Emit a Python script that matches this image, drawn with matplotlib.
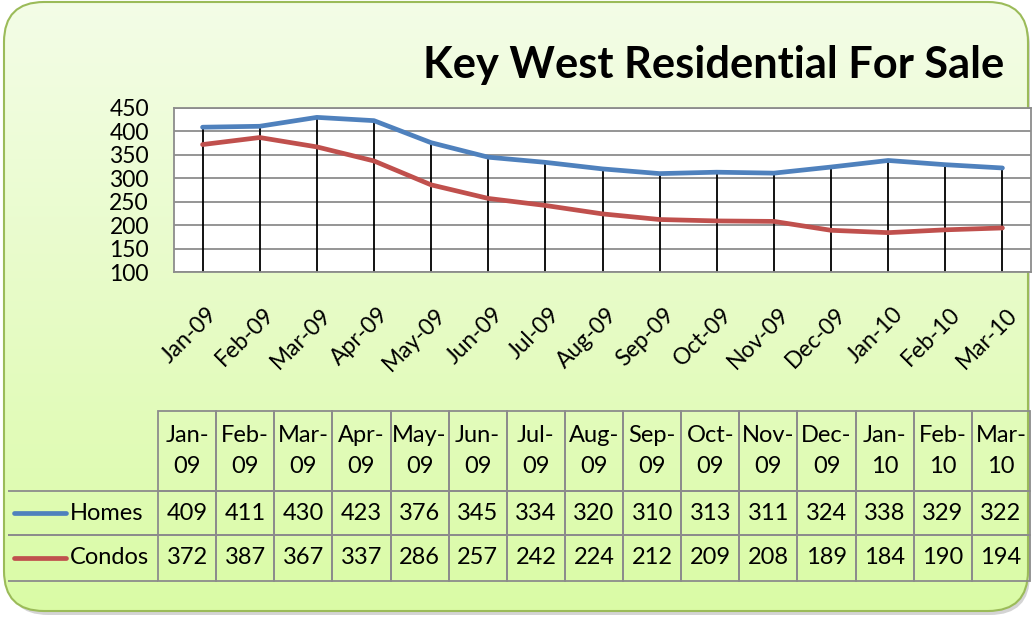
import matplotlib.pyplot as plt
import matplotlib.transforms as mtransforms
import numpy as np
from matplotlib.patches import FancyBboxPatch
from matplotlib.lines import Line2D

plt.rcParams['font.family'] = ['Lato', 'DejaVu Sans']

months = ["Jan-09", "Feb-09", "Mar-09", "Apr-09", "May-09", "Jun-09", "Jul-09",
          "Aug-09", "Sep-09", "Oct-09", "Nov-09", "Dec-09", "Jan-10", "Feb-10", "Mar-10"]
homes = [409, 411, 430, 423, 376, 345, 334, 320, 310, 313, 311, 324, 338, 329, 322]
condos = [372, 387, 367, 337, 286, 257, 242, 224, 212, 209, 208, 189, 184, 190, 194]
series_names = ["Homes", "Condos"]
series_colors = ["#4f81bd", "#c0504d"]

W, H = 1034, 619
fig = plt.figure(figsize=(W / 100, H / 100), dpi=100)
fig.patch.set_facecolor("white")

def fx(px):
    return px / W

def fy(py):
    return 1 - py / H

# background panel with green gradient
bg = fig.add_axes([0, 0, 1, 1])
bg.set_xlim(0, W)
bg.set_ylim(H, 0)
bg.axis("off")
shadow = FancyBboxPatch((8, 6), W - 12, H - 10, boxstyle="round,pad=0,rounding_size=40",
                        facecolor="#b8b8b8", edgecolor="none", alpha=0.6)
bg.add_patch(shadow)
panel = FancyBboxPatch((4, 2), W - 10, H - 10, boxstyle="round,pad=0,rounding_size=40",
                       facecolor="none", edgecolor="#9bbb59", linewidth=1.5)
grad = np.linspace(0, 1, 256).reshape(-1, 1)
c_top = np.array([0.955, 0.990, 0.905])
c_bot = np.array([0.855, 0.985, 0.650])
img = c_top + (c_bot - c_top) * grad[:, :, None]
im = bg.imshow(img, extent=[4, W - 6, H - 8, 2], aspect="auto", zorder=1)
bg.add_patch(panel)
im.set_clip_path(panel)
panel.set_zorder(2)

# title
fig.text(fx(1004), fy(78), "Key West Residential For Sale", ha="right", va="baseline",
         fontsize=31.2, fontweight="bold", color="black")

# main chart
ax = fig.add_axes([fx(174), fy(272), fx(1031) - fx(174), fy(108) - fy(272)])
ax.set_facecolor("white")
x = np.arange(len(months))
ax.set_xlim(-0.5, len(months) - 0.5)
ax.set_ylim(100, 450)
ax.set_yticks(np.arange(100, 451, 50))
ax.yaxis.grid(True, color="#8c8c8c", linewidth=1.3)
ax.set_axisbelow(True)
top_vals = np.maximum(homes, condos)
ax.vlines(x, 100, top_vals, color="black", linewidth=1.3, zorder=2)
ax.plot(x, homes, color=series_colors[0], linewidth=3.4, solid_capstyle="round", zorder=3)
ax.plot(x, condos, color=series_colors[1], linewidth=3.4, solid_capstyle="round", zorder=3)
for s in ax.spines.values():
    s.set_color("#8c8c8c")
    s.set_linewidth(1.3)
ax.tick_params(axis="both", length=0)
ax.tick_params(axis="y", pad=18, labelsize=16.5)
ax.set_xticks(x)
ax.set_xticklabels(months, rotation=45, ha="right", va="top", rotation_mode="anchor",
                   fontsize=16.5)
ax.tick_params(axis="x", pad=23)
shift = mtransforms.ScaledTranslation(4 / 100, 0, fig.dpi_scale_trans)
for lab in ax.get_xticklabels():
    lab.set_transform(lab.get_transform() + shift)

# data table (bbox covers the value grid, row labels sit to its left)
left, right, top, bottom = 158, 1030, 411, 581
tax = fig.add_axes([fx(left), fy(bottom), fx(right) - fx(left), fy(top) - fy(bottom)])
tax.axis("off")
tw = right - left
th = bottom - top
label_w = 150 / tw
col_w = 1 / len(months)
row_h = [80 / th, 44 / th, 46 / th]
col_labels = [m.replace("-", "-\n") for m in months]
cell_text = [[str(v) for v in homes], [str(v) for v in condos]]
tbl = tax.table(cellText=cell_text, rowLabels=series_names, colLabels=col_labels,
                colWidths=[col_w] * len(months),
                cellLoc="center", rowLoc="left", bbox=[0, 0, 1, 1])
tbl._autoColumns = []
tbl.auto_set_font_size(False)
tbl.set_fontsize(17)
for (r, c), cell in tbl.get_celld().items():
    cell.set_facecolor("none")
    cell.set_edgecolor("#8c8c8c")
    cell.set_linewidth(1.3)
    cell.set_height(row_h[r])
    if c == -1:
        cell.set_width(label_w)
        cell.visible_edges = "TB"
        cell.PAD = 62 / 150
    if r == 0:
        cell.get_text().set_linespacing(1.55)

# legend keys in the table row labels
for i, col in enumerate(series_colors):
    yy = 513 + i * 45
    fig.add_artist(Line2D([fx(14), fx(66)], [fy(yy), fy(yy)], color=col,
                          linewidth=3.4, solid_capstyle="round"))

fig.savefig("out.png", dpi=100)
